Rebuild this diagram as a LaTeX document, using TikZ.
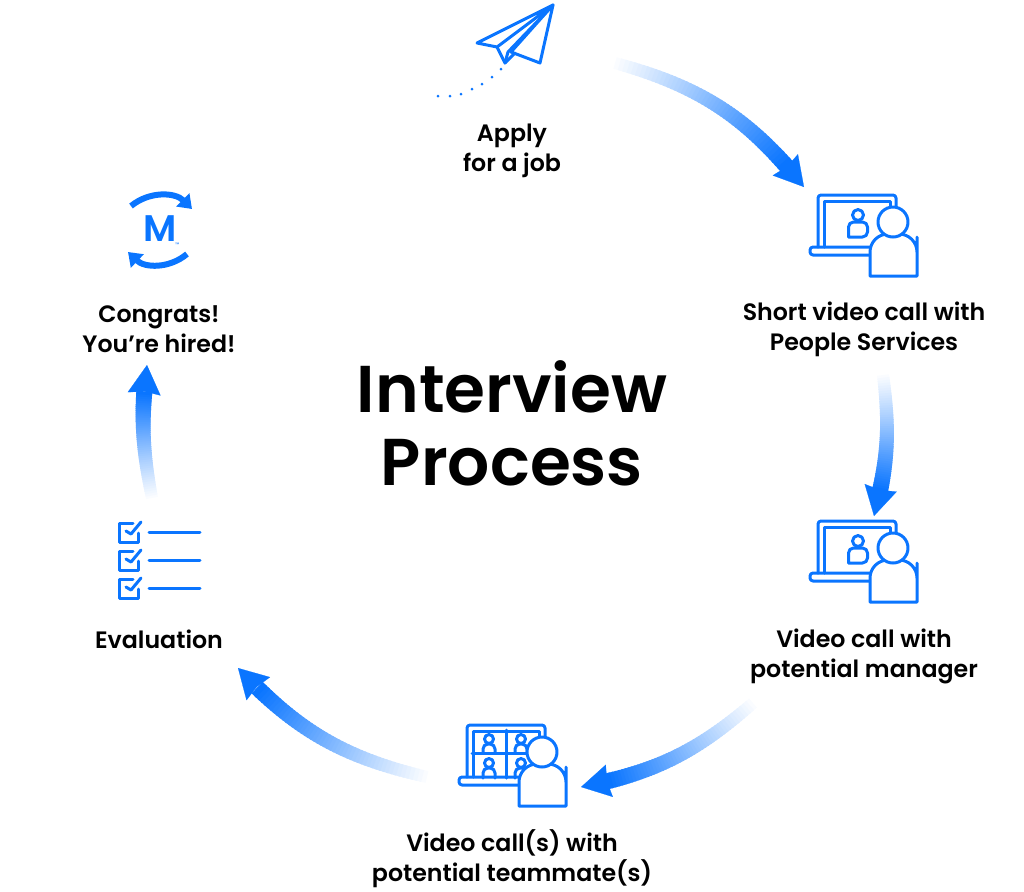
\documentclass[tikz,border=0pt]{standalone}
\usepackage{fontspec}
\setmainfont{Poppins}[BoldFont={Poppins SemiBold}]
\newfontfamily\logofont{Poppins}[BoldFont={Poppins SemiBold}]
\usetikzlibrary{arrows.meta,calc}
\definecolor{brandblue}{HTML}{0A75FF}
\tikzset {
    style step/.style={
        font=\fontsize{11.85}{15}\selectfont\bfseries,
        text=black,
        inner sep=0pt,
        align=center,
    },
    style title/.style={
        font=\fontsize{33.1}{36.5}\selectfont\bfseries,
        text=black,
        inner sep=0pt,
        align=center,
    },
    style icon/.style={
        draw=brandblue,
        line width=1.5pt,
        line join=round,
        line cap=round,
    },
    style head/.style={
        style icon,
        fill=white,
    },
    laptop/.pic={
        \draw[style icon, rounded corners=1.5pt] (0,52) -- (0,0) -- (78,0) -- (78,14);
        \draw[style icon] (6,52) -- (6,6) -- (72,6) -- (72,14);
        \draw[style icon, rounded corners=1.5pt] (52,52) -- (-8,52) -- (-8,60) -- (52,60);
    },
    bigperson/.pic={
        \draw[style head] (52,81) [rounded corners=9pt] -- (52,39) -- (99,39) -- (99,60) [sharp corners] -- (99,81) -- cycle;
        \draw[style head] (75,27) circle[radius=15];
    },
    smallperson/.pic={
        \draw[style icon] (-9.5,22) [rounded corners=2.5pt] -- (-9.5,7) -- (9.5,7) -- (9.5,22) [sharp corners] -- cycle;
        \draw[style head] (0,0) circle[radius=5.5];
    },
    tinyperson/.pic={
        \draw[style icon] (-6,#1) [rounded corners=2.5pt] -- (-6,5) -- (6,5) -- (6,#1);
        \draw[style head] (0,0) circle[radius=4.5];
    },
    checkrow/.pic={
        \draw[style icon] (14,0) -- (0,0) -- (0,19) -- (19,19) -- (19,10);
        \draw[style icon] (7,8) -- (12,11) -- (22,-1);
        \draw[style icon] (30,9) -- (81,9);
    },
}
% fading shaft along the bend, solid head at the end
\newcommand{\gradarrow}[4]{
    \foreach \i in {1,...,50}{
        \pgfmathtruncatemacro{\pct}{2*\i}
        \pgfmathsetmacro{\wid}{6+2*\i/50}
        \path (#1) to[bend left=#3] coordinate[pos=#4*(\i-1)/50] (seg a) coordinate[pos=#4*(\i+.5)/50] (seg b) (#2);
        \draw[draw=brandblue!\pct!white, line width=\wid pt] (seg a) -- (seg b);
    }
    \path (#1) to[bend left=#3] coordinate[pos=#4] (seg end) (#2);
    \draw[brandblue, line width=.1pt, -{Stealth[length=14.5pt,width=16.5pt,inset=1.2pt]}] (seg end) -- (#2);
}

\begin{document}
\begin{tikzpicture}[x=.5pt, y=-.5pt]
\useasboundingbox (0,0) rectangle (1024,891);

\node[style title] at (512,423) (title) {Interview\\Process};

\node[style step] at (512,151) (apply) {Apply\\for a job};
\node[style step] at (864,329) (short) {Short video call with\\People Services};
\node[style step] at (864,656) (manager) {Video call with\\potential manager};
\node[style step] at (512,859) (team) {Video call(s) with\\potential teammate(s)};
\node[style step] at (159,639) (evaluation) {Evaluation};
\node[style step] at (159,329) (hired) {Congrats!\\You’re hired!};

\coordinate (a1) at (615,63);
\coordinate (b1) at (804,187);
\coordinate (a2) at (883,375);
\coordinate (b2) at (874,516);
\coordinate (a3) at (753,703);
\coordinate (b3) at (581,787);
\coordinate (a4) at (427,777);
\coordinate (b4) at (238,668);
\coordinate (a5) at (152,498);
\coordinate (b5) at (147,365);

\gradarrow{a1}{b1}{18}{.89}
\gradarrow{a2}{b2}{11}{.83}
\gradarrow{a3}{b3}{15}{.87}
\gradarrow{a4}{b4}{17}{.88}
\gradarrow{a5}{b5}{9}{.81}

% paper plane
\draw[style icon] (553,5) -- (477,43) -- (497,47) -- cycle;
\draw[style icon] (497,47) -- (505,63) -- (515,53);
\draw[style icon] (553,5) -- (508,52) -- (505,63);
\draw[style icon] (553,5) -- (511,52) -- (540,63) -- cycle;
\foreach \px/\py in {501/69,492/77,482/84,472/89,461/94,450/96,438/96}
    \fill[brandblue] (\px,\py) circle[radius=1.5];

% call with People Services
\pic at (818,195) {laptop};
\pic at (858,215) {smallperson};
\pic at (818,195) {bigperson};

% call with manager
\pic at (818,521) {laptop};
\pic at (858,541) {smallperson};
\pic at (818,521) {bigperson};

% call with teammates
\pic at (467,725) {laptop};
\draw[style icon] (506,730) -- (506,778);
\draw[style icon] (472,753) -- (538,753);
\pic at (489,739) {tinyperson={14}};
\pic at (521,739) {tinyperson={14}};
\pic at (489,763) {tinyperson={15}};
\pic at (521,763) {tinyperson={15}};
\pic at (467,725) {bigperson};

% evaluation list
\pic at (119,523) {checkrow};
\pic at (119,551) {checkrow};
\pic at (119,579) {checkrow};

% logo
\node[font=\fontsize{18.5}{18}\logofont\bfseries, text=brandblue, inner sep=0pt] at (160,229) (logo) {M};
\node[font=\fontsize{2.5}{3}\selectfont, text=brandblue, inner sep=0pt, right=0pt] at (175,245) (logotm) {™};
\coordinate (r1) at (131,206);
\coordinate (r2) at (192,209);
\coordinate (r3) at (187,254);
\coordinate (r4) at (128,252);
\draw[brandblue, line width=3pt, -{Triangle[length=6.5pt,width=9pt]}] (r1) to[bend left=42] (r2);
\draw[brandblue, line width=3pt, -{Triangle[length=6.5pt,width=9pt]}] (r3) to[bend left=42] (r4);
\end{tikzpicture}
\end{document}
